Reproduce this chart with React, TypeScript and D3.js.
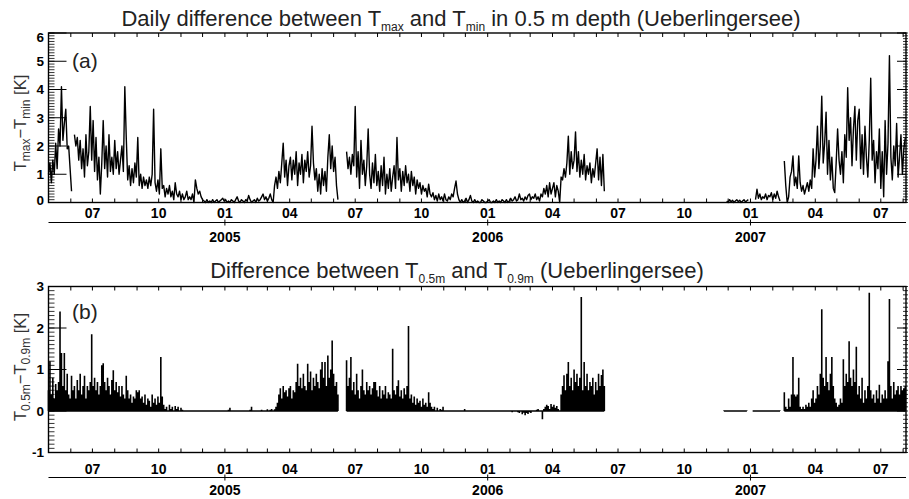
import React from "react";
import * as d3 from "d3";

// ---------- DATA (2-day steps from each segment's start date) ----------
const aSegStarts = ["2004-05-01", "2004-06-06", "2005-06-19", "2006-11-29", "2007-01-08", "2007-02-17"];
const aSeg1 = [1.0, 1.4, 0.7, 1.5, 1.0, 2.1, 1.2, 2.6, 2.0, 4.1, 2.2, 2.8, 3.3, 1.9, 2.0, 1.2, 0.4];
const aSeg2 = [
  2.4, 2.0, 2.3, 1.5, 2.2, 1.2, 1.9, 0.9, 2.4, 1.3,
  1.8, 3.4, 1.5, 2.9, 1.1, 2.3, 0.8, 1.6, 0.3, 1.4,
  2.9, 1.2, 2.0, 0.9, 2.4, 1.1, 1.6, 1.0, 2.2, 1.2,
  1.8, 1.0, 1.5, 2.0, 1.1, 4.1, 2.3, 0.8, 1.3, 0.6,
  1.2, 0.7, 1.4, 0.9, 2.3, 0.6, 1.0, 0.5, 0.9, 0.6,
  0.8, 0.5, 0.9, 0.6, 1.0, 3.3, 0.7, 0.4, 0.8, 0.3,
  1.9, 0.5, 0.6, 0.2, 0.5, 0.3, 0.6, 0.2, 0.4, 0.1,
  0.7, 0.3, 0.2, 0.4, 0.1, 0.3, 0.1, 0.2, 0.4, 0.1,
  0.2, 0.1, 0.3, 0.0, 0.8, 0.5, 0.3, 0.4, 0.2, 0.1,
  0.05, 0.0, 0.1, 0.0, 0.05, 0.0, 0.1, 0.0, 0.05, 0.1,
  0.0, 0.05, 0.1, 0.15, 0.05, 0.1, 0.0, 0.05, 0.0, 0.1,
  0.05, 0.0, 0.1, 0.2, 0.05, 0.0, 0.1, 0.05, 0.0, 0.1,
  0.05, 0.25, 0.1, 0.0, 0.05, 0.1, 0.0, 0.15, 0.05, 0.1,
  0.2, 0.3, 0.1, 0.2, 0.05, 0.15, 0.3, 0.1, 0.0, 0.6,
  0.9, 0.5, 1.1, 0.7, 1.4, 2.1, 0.9, 1.5, 0.6, 1.3,
  1.6, 0.8, 1.5, 1.0, 1.8, 0.6, 1.4, 1.0, 1.7, 0.7,
  1.5, 1.1, 1.8, 0.9, 1.3, 2.7, 1.4, 0.8, 1.2, 0.4,
  1.0, 0.3, 1.2, 0.6, 1.1, 0.4, 1.6, 2.4, 1.2, 2.0,
  1.1, 1.6, 0.6, 0.1,
];
const aSeg3 = [
  1.8, 1.2, 1.6, 1.0, 1.7, 1.3, 3.4, 0.9, 1.8, 0.5,
  2.2, 1.0, 1.5, 0.6, 1.3, 2.6, 1.0, 0.5, 1.4, 0.7,
  1.7, 0.6, 1.1, 0.4, 1.3, 0.6, 1.6, 0.3, 1.0, 0.5,
  1.2, 0.4, 0.9, 1.3, 0.5, 2.3, 0.8, 1.2, 0.4, 1.1,
  0.6, 1.3, 0.7, 1.0, 0.4, 1.1, 0.6, 0.9, 0.3, 0.8,
  0.5, 0.7, 0.3, 0.6, 0.4, 0.5, 0.2, 0.65, 0.3, 0.2,
  0.35, 0.1, 0.25, 0.05, 0.3, 0.1, 0.2, 0.05, 0.3, 0.1,
  0.05, 0.2, 0.1, 0.3, 0.2, 0.5, 0.76, 0.3, 0.1, 0.0,
  0.1, 0.0, 0.05, 0.15, 0.0, 0.1, 0.25, 0.05, 0.0, 0.1,
  0.0, 0.05, 0.0, 0.0, 0.1, 0.05, 0.0, 0.0, 0.05, 0.1,
  0.0, 0.0, 0.05, 0.0, 0.1, 0.0, 0.05, 0.0, 0.1, 0.05,
  0.0, 0.1, 0.0, 0.05, 0.15, 0.05, 0.1, 0.2, 0.05, 0.1,
  0.3, 0.1, 0.15, 0.05, 0.2, 0.1, 0.25, 0.3, 0.1, 0.2,
  0.15, 0.3, 0.1, 0.2, 0.05, 0.3, 0.2, 0.5, 0.3, 0.6,
  0.2, 0.7, 0.3, 0.5, 0.7, 0.2, 0.6, 0.4, 0.0, 0.9,
  0.8, 1.2, 0.9, 1.4, 2.35, 1.0, 1.8, 1.2, 1.5, 2.5,
  1.1, 1.8, 0.9, 1.5, 1.0, 1.7, 0.8, 1.3, 1.0, 1.4,
  0.7, 1.2, 0.9, 1.4, 1.9, 0.8, 1.6, 0.6, 1.7, 0.4,
];
const aSeg4 = [0.05, 0.0, 0.1, 0.02, 0.08, 0.0, 0.05, 0.1, 0.03, 0.08, 0.0, 0.05, 0.1, 0.02, 0.06, 0.1];
const aSeg5 = [0.1, 0.47, 0.15, 0.3, 0.1, 0.2, 0.15, 0.3, 0.1, 0.25, 0.2, 0.35, 0.1, 0.3, 0.15, 0.4, 0.2, 0.05];
const aSeg6 = [
  1.47, 0.6, 0.0, 0.2, 0.9, 1.1, 1.65, 0.6, 0.9, 0.5,
  1.65, 0.7, 0.4, 0.6, 0.3, 0.5, 0.7, 0.4, 0.8, 0.5,
  1.9, 0.9, 1.5, 2.7, 1.2, 2.0, 3.76, 1.4, 2.1, 3.2,
  1.0, 2.2, 0.8, 1.6, 0.5, 0.35, 1.4, 2.6, 1.5, 1.0,
  1.8, 0.7, 2.4, 1.6, 4.06, 2.2, 3.0, 1.3, 2.6, 3.4,
  1.5, 2.9, 3.3, 1.2, 2.4, 1.0, 2.7, 1.6, 0.9, 2.2,
  4.4, 1.5, 2.2, 0.7, 1.8, 1.2, 2.6, 0.5, 1.8, 0.2,
  2.9, 1.0, 2.1, 5.2, 1.6, 0.8, 2.0, 1.3, 2.8, 0.9,
  1.6, 2.4, 1.0, 1.9, 2.3,
];

const bSegStarts = ["2004-05-01", "2005-06-19", "2006-11-25", "2007-01-04", "2007-02-17"];
const bSeg1 = [
  0.5, 1.2, 0.4, 0.8, 0.3, 0.65, 0.5, 0.7, 2.4, 1.4,
  0.6, 1.4, 0.5, 0.9, 0.4, 0.3, 0.85, 0.5, 0.6, 0.3,
  0.75, 0.5, 0.9, 0.4, 0.6, 0.85, 0.3, 0.6, 0.5, 0.7,
  1.85, 0.6, 0.8, 0.5, 0.7, 0.4, 0.6, 1.1, 1.15, 0.7,
  0.5, 0.8, 0.6, 0.4, 0.75, 0.98, 0.5, 0.7, 0.45, 0.6,
  0.35, 0.6, 0.4, 0.3, 0.85, 0.5, 0.3, 0.4, 0.2, 0.35,
  0.3, 0.5, 0.45, 0.5, 0.3, 0.35, 0.2, 0.4, 0.15, 0.3,
  0.25, 0.1, 0.4, 0.2, 0.3, 0.15, 0.35, 0.2, 1.3, 0.35,
  0.15, 0.05, 0.1, 0.0, 0.15, 0.05, 0.1, 0.0, 0.12, 0.05,
  0.1, 0.0, 0.08, 0.03, 0.0, 0.02, 0.0, 0.01, 0.0, 0.02,
  0.0, 0.01, 0.0, 0.02, 0.0, 0.01, 0.0, 0.0, 0.02, 0.0,
  0.01, 0.0, 0.02, 0.0, 0.0, 0.01, 0.0, 0.02, 0.0, 0.01,
  0.0, 0.02, 0.0, 0.01, 0.0, 0.03, 0.08, 0.02, 0.0, 0.01,
  0.0, 0.02, 0.0, 0.01, 0.0, 0.0, 0.02, 0.0, 0.01, 0.0,
  0.03, 0.1, 0.02, 0.0, 0.01, 0.0, 0.02, 0.0, 0.03, 0.01,
  0.0, 0.02, 0.04, 0.0, 0.03, 0.05, 0.02, 0.04, 0.1, 0.2,
  0.4, 0.55, 0.3, 0.6, 0.45, 0.5, 0.35, 0.55, 0.6, 0.3,
  0.5, 0.45, 0.7, 1.14, 0.6, 0.8, 0.55, 0.9, 0.6, 0.5,
  1.14, 0.7, 0.95, 0.5, 0.8, 0.6, 0.9, 0.7, 0.55, 1.0,
  1.18, 0.8, 1.18, 0.6, 1.34, 0.8, 1.0, 1.7, 0.9, 0.6,
  0.7, 0.4,
];
const bSeg2 = [
  1.22, 0.6, 0.8, 1.3, 0.5, 0.7, 0.4, 0.9, 0.5, 0.3,
  0.6, 1.0, 0.5, 0.4, 0.7, 0.5, 0.6, 0.4, 0.55, 0.7,
  0.7, 0.5, 0.35, 0.6, 0.3, 0.5, 0.4, 0.6, 0.3, 0.45,
  0.4, 0.3, 1.5, 0.5, 0.4, 0.6, 0.74, 0.35, 0.5, 0.3,
  0.55, 0.4, 0.6, 2.05, 0.3, 0.4, 0.2, 0.35, 0.15, 0.3,
  0.2, 0.25, 0.1, 0.3, 0.15, 0.2, 0.1, 0.45, 0.2, 0.1,
  0.05, 0.1, 0.02, 0.08, 0.0, 0.05, 0.03, 0.1, 0.0, 0.02,
  0.0, 0.01, 0.0, 0.02, 0.0, 0.01, 0.0, 0.0, 0.02, 0.0,
  0.01, 0.0, 0.05, 0.0, 0.01, 0.0, 0.0, 0.02, 0.0, 0.01,
  0.0, 0.0, 0.01, 0.0, 0.02, 0.0, 0.0, 0.01, 0.0, 0.0,
  0.01, 0.0, 0.0, 0.02, 0.0, 0.0, -0.01, 0.0, -0.02, 0.0,
  -0.01, 0.0, -0.02, 0.0, 0.0, -0.03, -0.01, 0.0, -0.02, -0.03,
  -0.05, -0.02, -0.08, -0.04, -0.1, -0.05, -0.07, -0.03, -0.05, 0.0,
  0.0, -0.02, 0.03, 0.05, 0.0, 0.02, -0.2, 0.05, 0.1, 0.15,
  0.12, 0.05, 0.17, 0.1, 0.15, 0.08, 0.12, 0.05, 0.0, 0.4,
  0.6, 0.86, 0.5, 0.9, 1.18, 0.6, 0.8, 0.5, 1.0, 0.7,
  0.9, 0.6, 0.8, 2.75, 0.5, 1.18, 0.6, 0.9, 0.5, 0.7,
  0.6, 0.8, 0.4, 0.7, 0.5, 0.9, 0.6, 0.87, 1.0, 0.6,
];
const bSeg3 = [0.01, -0.01, 0.02, 0.0, 0.01, -0.02, 0.0, 0.01, 0.02, -0.01, 0.0, 0.01, 0.0, -0.01, 0.02, 0.0, 0.01];
const bSeg4 = [0.0, 0.01, -0.01, 0.02, 0.0, 0.01, 0.0, -0.02, 0.01, 0.0, 0.02, 0.0, 0.01, -0.01, 0.0, 0.02, 0.0, 0.01, 0.0, 0.01];
const bSeg5 = [
  0.45, 0.1, 0.05, 0.3, 0.1, 0.4, 1.3, 0.4, 0.35, 0.4,
  0.8, 0.1, 0.05, 0.1, 0.05, 0.15, 0.1, 0.2, 0.1, 0.3,
  0.5, 0.2, 0.3, 0.6, 0.4, 0.9, 2.45, 0.8, 0.6, 1.3,
  0.7, 0.5, 0.9, 1.3, 0.6, 0.3, 0.2, 0.1, 0.15, 0.3,
  0.2, 1.25, 0.6, 0.9, 0.7, 1.68, 0.8, 0.6, 1.0, 0.7,
  1.55, 0.4, 0.6, 0.3, 0.8, 0.2, 0.5, 0.3, 0.6, 2.85,
  0.5, 0.3, 0.4, 0.2, 0.5, 0.3, 0.63, 0.2, 0.4, 0.3,
  0.5, 0.3, 1.2, 2.7, 0.6, 0.3, 0.7, 0.4, 0.5, 0.6,
  0.4, 0.6, 0.5, 0.55, 0.6,
];

const aSegs = [aSeg1, aSeg2, aSeg3, aSeg4, aSeg5, aSeg6];
const bSegs = [bSeg1, bSeg2, bSeg3, bSeg4, bSeg5];
const aTicks = [0, 1, 2, 3, 4, 5, 6];
const bTicks = [-1, 0, 1, 2, 3];
const xDomain = ["2004-05-01", "2007-08-05"];

// ---------- LAYOUT ----------
const W = 909;
const H = 499;
const X0 = 48.5;
const X1 = 906;
const DAY = 86400000;
const FONT = "'Liberation Sans', Arial, Helvetica, sans-serif";

const parse = (s: string) => new Date(s + "T00:00:00Z");
const x = d3.scaleUtc().domain(xDomain.map(parse)).range([X0, X1]);

type Pt = { t: Date; v: number };
const toPoints = (start: string, vals: number[]): Pt[] => {
  const t0 = parse(start).getTime();
  return vals.map((v, i) => ({ t: new Date(t0 + i * 2 * DAY), v }));
};

const months = d3.utcMonth.range(x.domain()[0], x.domain()[1]);
const years = d3.utcYear.range(x.domain()[0], x.domain()[1]);
const monthFmt = d3.utcFormat("%m");
const yearFmt = d3.utcFormat("%Y");

type PanelProps = {
  top: number;
  bottom: number;
  domain: [number, number];
  ticks: number[];
  monthBase: number;
  yearLine: number;
  yearBase: number;
  children: (y: d3.ScaleLinear<number, number>) => React.ReactNode;
  labelNudge?: (v: number) => number;
};

function Panel({ top, bottom, domain, ticks, monthBase, yearLine, yearBase, children, labelNudge }: PanelProps) {
  const y = d3.scaleLinear().domain(domain).range([bottom, top]);
  const minor = d3.range(Math.round(domain[0] * 10), Math.round(domain[1] * 10) + 1).map((k) => k / 10);
  return (
    <g>
      {children(y)}
      {/* frame */}
      <rect x={X0} y={top} width={X1 - X0} height={bottom - top} fill="none" stroke="#000" strokeWidth={1.4} />
      {/* y minor ticks */}
      {minor.map((v) => (
        <g key={"m" + v}>
          <line x1={X0} x2={X0 + 6} y1={y(v)} y2={y(v)} stroke="#000" strokeWidth={0.8} />
          <line x1={X1 - 3} x2={X1 + 2} y1={y(v)} y2={y(v)} stroke="#000" strokeWidth={0.8} />
        </g>
      ))}
      {/* y major ticks */}
      {ticks.map((v) => (
        <g key={"M" + v}>
          <line x1={X0} x2={X0 + 18} y1={y(v)} y2={y(v)} stroke="#000" strokeWidth={1} />
          <line x1={X1 - 9} x2={X1} y1={y(v)} y2={y(v)} stroke="#000" strokeWidth={1} />
          <text
            x={44}
            y={y(v) + (labelNudge ? labelNudge(v) : 0)}
            dy="0.36em"
            textAnchor="end"
            fontSize={13.5}
            fontWeight="bold"
            fontFamily={FONT}
          >
            {v}
          </text>
        </g>
      ))}
      {/* month ticks */}
      {months.map((m) => (
        <g key={"t" + m.getTime()}>
          <line x1={x(m)} x2={x(m)} y1={top} y2={top + 4} stroke="#000" strokeWidth={1} />
          <line x1={x(m)} x2={x(m)} y1={bottom} y2={bottom - 4} stroke="#000" strokeWidth={1} />
          {m.getUTCMonth() % 3 === 0 && (
            <text x={x(m)} y={monthBase} textAnchor="middle" fontSize={14} fontWeight="bold" fontFamily={FONT}>
              {monthFmt(m)}
            </text>
          )}
        </g>
      ))}
      {/* year axis */}
      <line x1={X0} x2={X1} y1={yearLine} y2={yearLine} stroke="#000" strokeWidth={1.2} />
      {years.map((yr) => (
        <g key={"y" + yr.getTime()}>
          <line x1={x(yr)} x2={x(yr)} y1={yearLine - 3} y2={yearLine + 3} stroke="#000" strokeWidth={1} />
          <text x={x(yr)} y={yearBase} textAnchor="middle" fontSize={14} fontWeight="bold" fontFamily={FONT}>
            {yearFmt(yr)}
          </text>
        </g>
      ))}
    </g>
  );
}

export default function App() {
  const aLine = (y: d3.ScaleLinear<number, number>) =>
    d3
      .line<Pt>()
      .x((d) => x(d.t))
      .y((d) => y(d.v));

  const spikePath = (pts: Pt[], y: d3.ScaleLinear<number, number>) => {
    const p = d3.path();
    const y0 = y(0);
    p.moveTo(x(pts[0].t), y0);
    p.lineTo(x(pts[pts.length - 1].t), y0);
    pts.forEach((d) => {
      p.moveTo(x(d.t), y0);
      p.lineTo(x(d.t), y(d.v));
    });
    return p.toString();
  };

  return (
    <svg width={W} height={H} style={{ display: "block", position: "absolute", left: 0, top: 0, background: "#fff" }}>
      <rect width={W} height={H} fill="#fff" />
      {/* Titles */}
      <text x={461} y={26} textAnchor="middle" fontSize={22} fill="#222" fontFamily={FONT}>
        Daily difference between T<tspan dy={5} fontSize={12}>max</tspan>
        <tspan dy={-5}> and T</tspan>
        <tspan dy={5} fontSize={12}>min</tspan>
        <tspan dy={-5}> in 0.5 m depth (Ueberlingersee)</tspan>
      </text>
      <text x={457} y={278} textAnchor="middle" fontSize={22} fill="#222" fontFamily={FONT}>
        Difference between T<tspan dy={5} fontSize={12}>0.5m</tspan>
        <tspan dy={-5}> and T</tspan>
        <tspan dy={5} fontSize={12}>0.9m</tspan>
        <tspan dy={-5}> (Ueberlingersee)</tspan>
      </text>

      {/* Y axis titles */}
      <text transform="translate(26,123) rotate(-90)" textAnchor="middle" fontSize={16.5} fill="#333" fontFamily={FONT}>
        T<tspan dy={4} fontSize={12}>max</tspan>
        <tspan dy={-4}>−T</tspan>
        <tspan dy={4} fontSize={12}>min</tspan>
        <tspan dy={-4}> [K]</tspan>
      </text>
      <text transform="translate(26,367) rotate(-90)" textAnchor="middle" fontSize={16.5} fill="#333" fontFamily={FONT}>
        T<tspan dy={4} fontSize={12}>0.5m</tspan>
        <tspan dy={-4}>−T</tspan>
        <tspan dy={4} fontSize={12}>0.9m</tspan>
        <tspan dy={-4}> [K]</tspan>
      </text>

      <Panel
        top={33}
        bottom={202.5}
        domain={[0, 6]}
        ticks={aTicks}
        monthBase={218}
        yearLine={222.5}
        yearBase={241.5}
        labelNudge={(v) => (v === 6 ? 4 : v === 0 ? -2 : 0)}
      >
        {(y) => (
          <g>
            {aSegs.map((seg, i) => (
              <path
                key={i}
                d={aLine(y)(toPoints(aSegStarts[i], seg)) || ""}
                fill="none"
                stroke="#000"
                strokeWidth={1.4}
                strokeLinejoin="round"
              />
            ))}
          </g>
        )}
      </Panel>

      <Panel
        top={286.5}
        bottom={452.5}
        domain={[-1, 3]}
        ticks={bTicks}
        monthBase={473.5}
        yearLine={477.5}
        yearBase={495}
      >
        {(y) => (
          <g>
            {bSegs.map((seg, i) => (
              <path key={i} d={spikePath(toPoints(bSegStarts[i], seg), y)} fill="none" stroke="#000" strokeWidth={1.6} />
            ))}
          </g>
        )}
      </Panel>

      <text x={72} y={68} fontSize={21} fontFamily={FONT} fill="#222">(a)</text>
      <text x={72} y={319} fontSize={21} fontFamily={FONT} fill="#222">(b)</text>
    </svg>
  );
}
